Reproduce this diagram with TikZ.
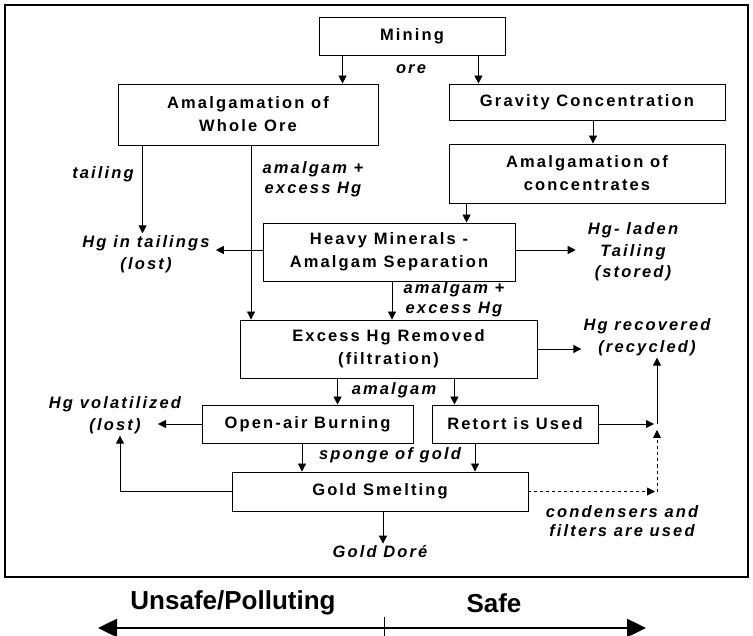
\documentclass[tikz,border=0pt]{standalone}
\usepackage{fontspec}
\setmainfont{Liberation Sans}
\newfontfamily\widefont[LetterSpace=13]{Liberation Sans}
\usetikzlibrary{arrows.meta}

\begin{document}
\begin{tikzpicture}[
  x=1pt,y=-1pt,
  >={Triangle[length=8pt,width=8pt]},
  stage/.style={draw,line width=0.9pt,inner sep=0pt,align=center,
    font=\widefont\bfseries\fontsize{16.5}{23}\selectfont},
  note/.style={inner sep=2pt,align=center,
    font=\widefont\bfseries\itshape\fontsize{16.5}{21.5}\selectfont},
  tight/.style={font=\widefont\bfseries\itshape\fontsize{16.5}{19.5}\selectfont},
  flow/.style={->,line width=0.9pt},
  side/.style={font=\bfseries\fontsize{26}{30}\selectfont}
]
  \useasboundingbox (0,0) rectangle (753,636);
  \draw[line width=2pt] (5,5) rectangle (748,577);

  % process boxes
  \node[stage,minimum width=186,minimum height=38] (mining) at (412,36) {Mining};
  \node[stage,minimum width=260,minimum height=61] (wholeore) at (248,114.5) {Amalgamation of\\Whole Ore};
  \node[stage,minimum width=276,minimum height=36] (gravity) at (587,102) {Gravity Concentration};
  \node[stage,minimum width=276,minimum height=59] (conc) at (587,173.5) {Amalgamation of\\concentrates};
  \node[stage,minimum width=252,minimum height=58] (heavy) at (389,252) {Heavy Minerals -\\Amalgam Separation};
  \node[stage,minimum width=297,minimum height=58] (excess) at (388.5,349) {Excess Hg Removed\\(filtration)};
  \node[stage,minimum width=211,minimum height=38] (openair) at (307.5,424) {Open-air Burning};
  \node[stage,minimum width=166,minimum height=38] (retort) at (515,424) {Retort is Used};
  \node[stage,minimum width=296,minimum height=39] (smelting) at (380,491.5) {Gold Smelting};

  % outputs and flow labels
  \node[note] (ore) at (411,69) {ore};
  \node[note] (tailing) at (103,174) {tailing};
  \node[note,tight] (amalg1) at (313,179) {amalgam +\\excess Hg};
  \node[note,inner xsep=6pt] (tailings) at (146,254) {Hg in tailings\\(lost)};
  \node[note,inner xsep=12pt] (laden) at (633,252) {Hg- laden\\Tailing\\(stored)};
  \node[note,tight] (amalg2) at (454,299) {amalgam +\\excess Hg};
  \node[note] (recovered) at (647,337) {Hg recovered\\(recycled)};
  \node[note] (amalg3) at (394,390) {amalgam};
  \node[note] (volat) at (115,415) {Hg volatilized\\(lost)};
  \node[note] (sponge) at (390,455) {sponge of gold};
  \node[note,tight] (filters) at (622,521) {condensers and\\filters are used};
  \node[note] (dore) at (380,552) {Gold Doré};

  \coordinate (volattip) at (158,424);
  \coordinate (junction) at (657,424);

  % connectors
  \draw[flow] ([xshift=24]mining.south west) -- ([xshift=24]mining.south west |- wholeore.north);
  \draw[flow] ([xshift=-27]mining.south east) -- ([xshift=-27]mining.south east |- gravity.north);
  \draw[flow] ([xshift=6]gravity.south) -- ([xshift=6]conc.north);
  \draw[flow] ([xshift=18]conc.south west) -- ([xshift=18]conc.south west |- heavy.north);
  \draw[flow] ([xshift=25]wholeore.south west) -- ([xshift=25]wholeore.south west |- tailings.north);
  \draw[flow] ([xshift=3]wholeore.south) -- ([xshift=3]wholeore.south |- excess.north);
  \draw[flow] ([yshift=2]heavy.west) -- ([yshift=2]heavy.west -| tailings.east);
  \draw[flow] ([yshift=2]heavy.east) -- ([yshift=2]heavy.east -| laden.west);
  \draw[flow] ([xshift=3]heavy.south) -- ([xshift=3]heavy.south |- excess.north);
  \draw[flow] (excess.east) -- (excess.east -| recovered.west);
  \draw[flow] ([xshift=98]excess.south west) -- ([xshift=98]excess.south west |- openair.north);
  \draw[flow] ([xshift=-83]excess.south east) -- ([xshift=-83]excess.south east |- retort.north);
  \draw[flow] (openair.west) -- (volattip);
  \draw[flow] (retort.east) -- ([xshift=-3]junction);
  \draw[flow] (junction) -- (junction |- recovered.south);
  \draw[flow,dashed] (smelting.east) -- ([xshift=-2]smelting.east -| junction);
  \draw[flow,dashed] (smelting.east -| junction) -- ([yshift=-6]junction);
  \draw[flow] ([xshift=-5.5]openair.south) -- ([xshift=-5.5]openair.south |- smelting.north);
  \draw[flow] ([xshift=-40]retort.south) -- ([xshift=-40]retort.south |- smelting.north);
  \draw[flow] (smelting.west) -| ([xshift=5]volat.south);
  \draw[flow] ([xshift=3]smelting.south) -- ([xshift=3]dore.north);

  % safety scale
  \node[side] (unsafe) at (233,603) {Unsafe/Polluting};
  \node[side] (safe) at (494,603) {Safe};
  \coordinate (scaleL) at (98,628);
  \coordinate (scaleR) at (646,628);
  \coordinate (scaleM) at (384,628);
  \draw[{Triangle[length=19pt,width=18pt]}-{Triangle[length=19pt,width=18pt]},line width=2.5pt] (scaleL) -- (scaleR);
  \draw[line width=1pt] ([yshift=11]scaleM) -- ([yshift=-8]scaleM);
\end{tikzpicture}
\end{document}
